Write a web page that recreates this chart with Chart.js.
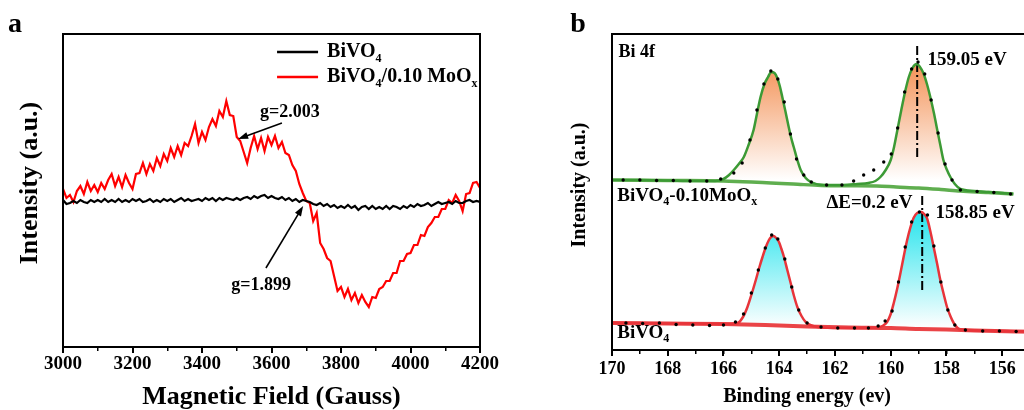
<!DOCTYPE html>
<html>
<head>
<meta charset="utf-8">
<script src="https://cdn.jsdelivr.net/npm/chart.js@4.4.0/dist/chart.umd.min.js"></script>
<style>
  html, body { margin: 0; padding: 0; background: #fff; }
  body { width: 1024px; height: 410px; overflow: hidden; position: relative; }
  #panelA { position: absolute; left: 0; top: 0; }
  #panelB { position: absolute; left: 512px; top: 0; }
</style>
</head>
<body>
<canvas id="panelA" width="512" height="410"></canvas>
<canvas id="panelB" width="540" height="410"></canvas>
<script>
// ---- panel a: EPR spectra ----
const fieldGauss = [
  3000, 3010, 3020, 3030, 3040, 3050, 3060, 3070, 3080, 3090,
  3100, 3110, 3120, 3130, 3140, 3150, 3160, 3170, 3180, 3190,
  3200, 3210, 3220, 3230, 3240, 3250, 3260, 3270, 3280, 3290,
  3300, 3310, 3320, 3330, 3340, 3350, 3360, 3370, 3380, 3390,
  3400, 3410, 3420, 3430, 3440, 3450, 3460, 3470, 3480, 3490,
  3500, 3510, 3520, 3530, 3540, 3550, 3560, 3570, 3580, 3590,
  3600, 3610, 3620, 3630, 3640, 3650, 3660, 3670, 3680, 3690,
  3700, 3710, 3720, 3730, 3740, 3750, 3760, 3770, 3780, 3790,
  3800, 3810, 3820, 3830, 3840, 3850, 3860, 3870, 3880, 3890,
  3900, 3910, 3920, 3930, 3940, 3950, 3960, 3970, 3980, 3990,
  4000, 4010, 4020, 4030, 4040, 4050, 4060, 4070, 4080, 4090,
  4100, 4110, 4120, 4130, 4140, 4150, 4160, 4170, 4180, 4190,
  4200
];
const bivo4Epr = [
  1, -3, -2, 0, -2, 1, -1, -2, 1, -1,
  1, -1, 2, -1, 1, -1, 2, -1, 1, -1,
  2, 0, 2, -1, 0, 2, -1, 1, -1, 2,
  0, 2, -1, 1, 3, 0, 2, 0, 1, 2,
  0, 3, 1, 3, 0, 3, 1, 3, 2, 1,
  3, 1, 3, 4, 2, 5, 3, 5, 6, 3,
  5, 3, 2, 4, 1, 3, 0, 2, -1, 1,
  0, -1, -3, -4, -2, -5, -3, -6, -4, -7,
  -5, -7, -4, -7, -5, -9, -6, -5, -8, -5,
  -8, -6, -8, -5, -8, -5, -6, -8, -5, -7,
  -4, -6, -3, -5, -4, -2, -5, -3, -1, -3,
  -2, -1, -3, 0, -2, -2, 0, 1, -1, 0,
  -1
];
const mooxEpr = [
  12, 3, 6, -1, 10, 15, 7, 19, 10, 16,
  9, 18, 12, 21, 27, 15, 24, 14, 26, 18,
  12, 27, 28, 38, 27, 37, 30, 43, 35, 47,
  40, 53, 44, 55, 46, 58, 55, 65, 77, 58,
  69, 61, 74, 82, 75, 90, 84, 100, 86, 85,
  64, 60, 49, 38, 53, 65, 52, 63, 50, 64,
  56, 65, 53, 59, 48, 46, 36, 30, 17, 8,
  0, -2, -20, -12, -42, -48, -57, -60, -75, -90,
  -86, -96, -88, -99, -92, -102, -94, -101, -106, -96,
  -97, -88, -86, -80, -80, -72, -72, -60, -60, -53,
  -52, -44, -44, -34, -35, -26, -22, -16, -16, -8,
  -8, 1, -2, 6, 0, -10, 7, 8, 18, 19,
  13
];
const eprTicks = [3000, 3200, 3400, 3600, 3800, 4000, 4200];

// ---- panel b: Bi 4f XPS ----
const moGreenFitE = [170, 169, 168, 167, 166.3, 166.0, 165.8, 165.63, 165.45, 165.27, 165.1, 164.92, 164.8, 164.67, 164.53, 164.4, 164.29, 164.17, 164.07, 163.98, 163.89, 163.78, 163.66, 163.57, 163.48, 163.35, 163.23, 163.05, 162.87, 162.4, 161.7, 161.2, 160.8, 160.55, 160.37, 160.18, 160.0, 159.88, 159.76, 159.62, 159.47, 159.35, 159.22, 159.14, 159.06, 158.95, 158.83, 158.7, 158.58, 158.45, 158.33, 158.22, 158.11, 157.98, 157.86, 157.7, 157.5, 157.0, 156.5, 156.0, 155.6];
const moGreenFitI = [170, 170, 169.5, 169, 169, 171, 175, 180, 186, 193, 205, 220, 236, 253, 266, 273, 278, 277, 272, 264, 253, 239, 223, 212, 203, 190, 180, 172, 168, 165, 165, 166, 167, 169, 173, 180, 190, 203, 220, 240, 260, 273, 282, 285, 286, 283, 277, 266, 253, 237, 220, 205, 190, 180, 173, 166, 161, 159, 158, 157, 156];
const moBackE = [170, 168, 166, 165, 164.3, 163.5, 162.5, 161.5, 160.5, 159.8, 159, 158.2, 157.5, 156.5, 155.6];
const moBackI = [170, 169.5, 169, 168, 167, 166, 164.5, 164.2, 164, 163, 162, 160.5, 159, 157.5, 156];
const moRawE = [169.6, 169.0, 168.4, 167.8, 167.2, 166.6, 166.1, 165.63, 165.33, 165.05, 164.8, 164.55, 164.3, 164.05, 163.82, 163.6, 163.38, 163.12, 162.85, 162.3, 161.75, 161.33, 160.97, 160.61, 160.25, 159.98, 159.75, 159.5, 159.25, 159.02, 158.78, 158.55, 158.3, 158.05, 157.8, 157.5, 156.9, 156.3, 155.7];
const moRawI = [170, 170, 169.5, 169.5, 169, 169, 171, 177, 187, 210, 240, 266, 279, 271, 248, 216, 191, 175, 168, 165, 165, 169, 175, 180, 188, 196, 222, 258, 281, 288, 276, 250, 217, 186, 170, 160, 158.5, 157.5, 156];

const bvRedFitE = [170, 169, 168, 167, 166, 165.5, 165.3, 165.14, 165.0, 164.84, 164.72, 164.6, 164.48, 164.37, 164.29, 164.21, 164.11, 164.01, 163.92, 163.83, 163.71, 163.59, 163.47, 163.35, 163.2, 163.05, 162.63, 161.8, 161, 160.49, 160.3, 160.13, 160.0, 159.89, 159.77, 159.65, 159.53, 159.41, 159.3, 159.18, 159.05, 158.9, 158.8, 158.7, 158.58, 158.46, 158.34, 158.22, 158.1, 157.98, 157.86, 157.74, 157.6, 157.5, 157, 156, 155, 154.5];
const bvRedFitI = [27, 27, 26.5, 26.5, 26, 27, 33, 43, 55, 70, 82, 93, 103, 110, 113, 114, 112, 108, 101, 93, 80, 67, 54, 43, 34, 28, 23, 22, 22, 22.5, 24, 28, 36, 47, 61, 77, 94, 110, 122, 132, 137, 138, 136, 132, 119, 103, 87, 70, 56, 43, 34, 27, 22, 20.5, 19.5, 19, 18.5, 18];
const bvBackE = [170, 168, 166, 164.5, 163, 161.5, 160, 159, 158, 157, 155.5, 154.5];
const bvBackI = [27, 26.5, 26, 25, 23.5, 22.5, 22, 21, 20.5, 19.5, 18.5, 18];
const bvRawE = [169.5, 168.9, 168.3, 167.7, 167.1, 166.5, 166.0, 165.57, 165.28, 165.0, 164.75, 164.5, 164.27, 164.05, 163.8, 163.55, 163.3, 163.0, 162.5, 161.9, 161.3, 160.8, 160.45, 160.2, 159.95, 159.72, 159.48, 159.25, 158.97, 158.68, 158.45, 158.2, 157.95, 157.7, 157.32, 156.7, 156.1, 155.5];
const bvRawI = [27, 26.5, 27, 25.5, 25, 24.5, 25, 28, 36, 57, 80, 102, 115, 111, 91, 63, 40, 27, 23, 22, 22, 22, 24, 29, 39, 68, 103, 128, 138, 135, 104, 68, 40, 25, 20, 19, 19, 18.5];

const moPeakE = [159.05, 159.05];
const moPeakI = [193, 305];
const bvPeakE = [158.87, 158.87];
const bvPeakI = [60, 156];
const xpsTicks = [170, 168, 166, 164, 162, 160, 158, 156];

const serif = "'Liberation Serif', 'Times New Roman', serif";

function toPoints(xs, ys) {
  return xs.map((x, i) => ({ x, y: ys[i] }));
}

// text made of pieces, some of them subscripts
function drawRich(ctx, parts, x, y, size, align) {
  const subSize = Math.round(size * 0.62);
  let width = 0;
  parts.forEach(([t, sub]) => {
    ctx.font = `bold ${sub ? subSize : size}px ${serif}`;
    width += ctx.measureText(t).width;
  });
  let cx = x;
  if (align === "right") cx = x - width;
  if (align === "center") cx = x - width / 2;
  ctx.textAlign = "left";
  ctx.textBaseline = "middle";
  ctx.fillStyle = "#000";
  parts.forEach(([t, sub]) => {
    ctx.font = `bold ${sub ? subSize : size}px ${serif}`;
    ctx.fillText(t, cx, sub ? y + size * 0.33 : y);
    cx += ctx.measureText(t).width;
  });
}

function drawArrow(ctx, x1, y1, x2, y2) {
  const angle = Math.atan2(y2 - y1, x2 - x1);
  const head = 10;
  ctx.strokeStyle = "#000";
  ctx.fillStyle = "#000";
  ctx.lineWidth = 1.6;
  ctx.beginPath();
  ctx.moveTo(x1, y1);
  ctx.lineTo(x2 - Math.cos(angle) * head * 0.8, y2 - Math.sin(angle) * head * 0.8);
  ctx.stroke();
  ctx.beginPath();
  ctx.moveTo(x2, y2);
  ctx.lineTo(x2 - head * Math.cos(angle) + 3.5 * Math.sin(angle), y2 - head * Math.sin(angle) - 3.5 * Math.cos(angle));
  ctx.lineTo(x2 - head * Math.cos(angle) - 3.5 * Math.sin(angle), y2 - head * Math.sin(angle) + 3.5 * Math.cos(angle));
  ctx.closePath();
  ctx.fill();
}

function drawFrame(ctx, area) {
  ctx.strokeStyle = "#000";
  ctx.lineWidth = 2;
  ctx.strokeRect(area.left, area.top, area.right - area.left, area.bottom - area.top);
}

function drawVertical(ctx, text, x, y, size) {
  ctx.save();
  ctx.translate(x, y);
  ctx.rotate(-Math.PI / 2);
  ctx.font = `bold ${size}px ${serif}`;
  ctx.fillStyle = "#000";
  ctx.textAlign = "center";
  ctx.textBaseline = "middle";
  ctx.fillText(text, 0, 0);
  ctx.restore();
}

const eprDecor = {
  id: "eprDecor",
  afterDatasetsDraw(chart) {
    const { ctx, chartArea: area, scales: { x, y } } = chart;
    const px = (g) => x.getPixelForValue(g);
    const py = (v) => y.getPixelForValue(v);
    ctx.save();
    drawFrame(ctx, area);

    // legend
    ctx.lineWidth = 2.5;
    ctx.strokeStyle = "#000";
    ctx.beginPath();
    ctx.moveTo(px(3616), py(149));
    ctx.lineTo(px(3734), py(149));
    ctx.stroke();
    ctx.strokeStyle = "#ff0000";
    ctx.beginPath();
    ctx.moveTo(px(3616), py(124));
    ctx.lineTo(px(3734), py(124));
    ctx.stroke();
    drawRich(ctx, [["BiVO", false], ["4", true]], px(3760), py(149), 20, "left");
    drawRich(ctx, [["BiVO", false], ["4", true], ["/0.10 MoO", false], ["x", true]], px(3760), py(124), 20, "left");

    // g-value labels
    drawRich(ctx, [["g=2.003", false]], px(3653), py(89), 18, "center");
    drawArrow(ctx, px(3630), py(78), px(3504), py(62));
    drawRich(ctx, [["g=1.899", false]], px(3570), py(-84), 18, "center");
    drawArrow(ctx, px(3584), py(-67), px(3691), py(-5));

    // panel letter and axis titles
    ctx.font = `bold 28px ${serif}`;
    ctx.fillStyle = "#000";
    ctx.textAlign = "center";
    ctx.textBaseline = "alphabetic";
    ctx.fillText("a", 15, 32);
    drawVertical(ctx, "Intensity (a.u.)", area.left - 33, 183, 26);
    ctx.font = `bold 26px ${serif}`;
    ctx.textAlign = "center";
    ctx.textBaseline = "middle";
    ctx.fillText("Magnetic Field (Gauss)", (area.left + area.right) / 2, 397);
    ctx.restore();
  }
};

new Chart(document.getElementById("panelA"), {
  type: "line",
  data: {
    labels: fieldGauss,
    datasets: [
      { label: "BiVO4", data: bivo4Epr, xAxisID: "x", borderColor: "#000", borderWidth: 2.2, pointRadius: 0, tension: 0 },
      { label: "BiVO4/0.10 MoOx", data: mooxEpr, xAxisID: "x", borderColor: "#ff0000", borderWidth: 2.2, pointRadius: 0, tension: 0 }
    ]
  },
  options: {
    responsive: false,
    animation: false,
    devicePixelRatio: 1,
    layout: { padding: { left: 63, top: 34, right: 32, bottom: 0 } },
    plugins: { legend: { display: false }, tooltip: { enabled: false } },
    scales: {
      x: {
        type: "linear",
        position: "bottom",
        weight: 1,
        min: 3000,
        max: 4200,
        afterFit: (scale) => { scale.height = 63; },
        afterBuildTicks: (scale) => { scale.ticks = eprTicks.map((value) => ({ value })); },
        border: { display: false },
        grid: { drawOnChartArea: false, color: "#000", lineWidth: 2, tickLength: 6 },
        ticks: {
          padding: 0, color: "#000", maxRotation: 0, autoSkip: false,
          callback: (value) => String(value),
          font: { family: serif, size: 19, weight: "bold" }
        }
      },
      xMinor: {
        type: "linear",
        axis: "x",
        position: "bottom",
        weight: 0,
        min: 3000,
        max: 4200,
        afterFit: (scale) => { scale.height = 0; },
        border: { display: false },
        grid: { drawOnChartArea: false, color: "#000", lineWidth: 1.5, tickLength: 4 },
        ticks: { stepSize: 100, display: false }
      },
      y: { display: false, min: -146, max: 167 }
    }
  },
  plugins: [eprDecor]
});

function peakGradient(topValue, baseValue, topColor) {
  return (context) => {
    const { chart } = context;
    const { ctx, chartArea, scales } = chart;
    if (!chartArea) return "transparent";
    const g = ctx.createLinearGradient(0, scales.y.getPixelForValue(topValue), 0, scales.y.getPixelForValue(baseValue));
    g.addColorStop(0, topColor);
    g.addColorStop(1, "#ffffff");
    return g;
  };
}

const xpsDecor = {
  id: "xpsDecor",
  afterDatasetsDraw(chart) {
    const { ctx, chartArea: area, scales: { x, y } } = chart;
    const px = (e) => x.getPixelForValue(e);
    const py = (v) => y.getPixelForValue(v);
    ctx.save();
    drawFrame(ctx, area);

    drawRich(ctx, [["Bi 4f", false]], px(169.77), py(298), 18, "left");
    drawRich(ctx, [["159.05 eV", false]], px(158.68), py(290), 19, "left");
    drawRich(ctx, [["BiVO", false], ["4", true], ["-0.10MoO", false], ["x", true]], px(169.81), py(154), 19, "left");
    drawRich(ctx, [["\u0394E=0.2 eV", false]], px(159.22), py(147), 19, "right");
    drawRich(ctx, [["158.85 eV", false]], px(158.39), py(137), 19, "left");
    drawRich(ctx, [["BiVO", false], ["4", true]], px(169.81), py(17), 19, "left");

    ctx.font = `bold 28px ${serif}`;
    ctx.fillStyle = "#000";
    ctx.textAlign = "center";
    ctx.textBaseline = "alphabetic";
    ctx.fillText("b", 66, 32);
    drawVertical(ctx, "Intensity (a.u.)", area.left - 32, 185, 20);
    ctx.font = `bold 20px ${serif}`;
    ctx.textAlign = "center";
    ctx.textBaseline = "middle";
    ctx.fillText("Binding energy (ev)", px(163), 397);
    ctx.restore();
  }
};

const dotStyle = { showLine: false, pointRadius: 1.7, pointBackgroundColor: "#000", pointBorderWidth: 0, borderColor: "#000" };

new Chart(document.getElementById("panelB"), {
  type: "line",
  data: {
    datasets: [
      Object.assign({ label: "BiVO4-0.10MoOx raw", data: toPoints(moRawE, moRawI) }, dotStyle),
      Object.assign({ label: "BiVO4 raw", data: toPoints(bvRawE, bvRawI) }, dotStyle),
      {
        label: "BiVO4-0.10MoOx fit", data: toPoints(moGreenFitE, moGreenFitI),
        borderColor: "#3c9a35", borderWidth: 2.5, pointRadius: 0, cubicInterpolationMode: "monotone",
        fill: 4, backgroundColor: peakGradient(290, 170, "#f38f52")
      },
      {
        label: "BiVO4 fit", data: toPoints(bvRedFitE, bvRedFitI),
        borderColor: "#e8343a", borderWidth: 2.5, pointRadius: 0, cubicInterpolationMode: "monotone",
        fill: 5, backgroundColor: peakGradient(140, 22, "#22e3ec")
      },
      {
        label: "BiVO4-0.10MoOx background", data: toPoints(moBackE, moBackI),
        borderColor: "#5fae4f", borderWidth: 3.5, pointRadius: 0, cubicInterpolationMode: "monotone", fill: false
      },
      {
        label: "BiVO4 background", data: toPoints(bvBackE, bvBackI),
        borderColor: "#ea4447", borderWidth: 4, pointRadius: 0, cubicInterpolationMode: "monotone", fill: false
      },
      {
        label: "159.05 eV", data: toPoints(moPeakE, moPeakI),
        borderColor: "#000", borderWidth: 2, borderDash: [9, 3, 2, 3], pointRadius: 0, fill: false
      },
      {
        label: "158.85 eV", data: toPoints(bvPeakE, bvPeakI),
        borderColor: "#000", borderWidth: 2, borderDash: [9, 3, 2, 3], pointRadius: 0, fill: false
      }
    ]
  },
  options: {
    responsive: false,
    animation: false,
    devicePixelRatio: 1,
    layout: { padding: { left: 100, top: 34, right: 8, bottom: 0 } },
    plugins: {
      legend: { display: false },
      tooltip: { enabled: false },
      filler: { drawTime: "beforeDatasetsDraw" }
    },
    scales: {
      x: {
        type: "linear",
        position: "bottom",
        weight: 1,
        reverse: true,
        min: 154.5,
        max: 170,
        afterFit: (scale) => { scale.height = 60; },
        afterBuildTicks: (scale) => { scale.ticks = xpsTicks.map((value) => ({ value })); },
        border: { display: false },
        grid: { drawOnChartArea: false, color: "#000", lineWidth: 2, tickLength: 6 },
        ticks: {
          padding: 3, color: "#000", maxRotation: 0, autoSkip: false,
          callback: (value) => String(value),
          font: { family: serif, size: 18, weight: "bold" }
        }
      },
      xMinor: {
        type: "linear",
        axis: "x",
        position: "bottom",
        weight: 0,
        reverse: true,
        min: 154.5,
        max: 170,
        afterFit: (scale) => { scale.height = 0; },
        border: { display: false },
        grid: { drawOnChartArea: false, color: "#000", lineWidth: 1.5, tickLength: 4 },
        ticks: { stepSize: 1, display: false }
      },
      y: { display: false, min: 0, max: 316 }
    }
  },
  plugins: [xpsDecor]
});
</script>
</body>
</html>
